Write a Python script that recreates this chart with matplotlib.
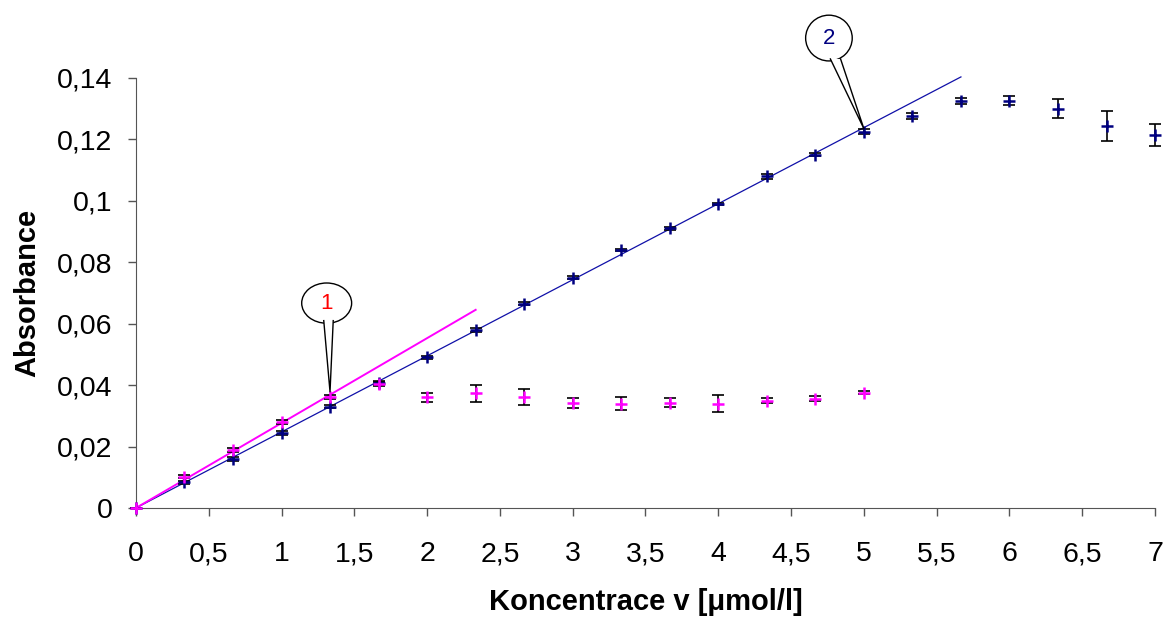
import numpy as np
import matplotlib
matplotlib.use("Agg")
import matplotlib.pyplot as plt
from matplotlib.patches import Ellipse, Polygon
from matplotlib.ticker import FuncFormatter, MultipleLocator

plt.rcParams['font.family'] = ['Liberation Sans', 'DejaVu Sans']

# Data: concentration steps of 1/3 umol/l
x_blue = np.arange(22) / 3.0
y_blue = [0, 0.0084, 0.0159, 0.0245, 0.033, 0.0408, 0.049, 0.058, 0.0665, 0.075,
          0.084, 0.091, 0.099, 0.108, 0.115, 0.1225, 0.1276, 0.1325, 0.1326,
          0.130, 0.1245, 0.1213]
err_blue = [0, 0.0005, 0.0007, 0.0007, 0.0006, 0.0006, 0.0005, 0.0006, 0.0005, 0.0006,
            0.0004, 0.0004, 0.0004, 0.0008, 0.0005, 0.0008, 0.001, 0.001, 0.0015,
            0.003, 0.0049, 0.0036]

x_mag = np.arange(16) / 3.0
y_mag = [0, 0.0102, 0.0188, 0.0281, 0.0361, 0.0403, 0.036, 0.0373, 0.036, 0.0343,
         0.034, 0.0343, 0.034, 0.0349, 0.0356, 0.0375]
err_mag = [0, 0.0006, 0.0007, 0.0006, 0.0007, 0.0006, 0.0014, 0.0027, 0.0026, 0.0016,
           0.0022, 0.0014, 0.0027, 0.0008, 0.0007, 0.0005]

# linear fits through origin: (points used, extent of line)
fit_mag_n, fit_mag_end = 5, 7 / 3.0
fit_blue_n, fit_blue_end = 16, 17 / 3.0

navy = '#000080'
line_blue = '#1010a8'
magenta = '#ff00ff'

fig = plt.figure(figsize=(11.66, 6.17), dpi=100)
ax = fig.add_axes([0.1166, 0.1767, 0.874, 0.6969])

def origin_slope(x, y, n):
    x = np.asarray(x[:n]); y = np.asarray(y[:n])
    return np.sum(x * y) / np.sum(x * x)

k_mag = origin_slope(x_mag, y_mag, fit_mag_n)
k_blue = origin_slope(x_blue, y_blue, fit_blue_n)

ax.plot([0, fit_blue_end], [0, k_blue * fit_blue_end], color=line_blue, lw=0.9,
        clip_on=False, zorder=2)
ax.plot([0, fit_mag_end], [0, k_mag * fit_mag_end], color=magenta, lw=1.4,
        clip_on=False, zorder=2)

ax.errorbar(x_blue, y_blue, yerr=err_blue, fmt='none', ecolor='black',
            elinewidth=1.2, capsize=4, capthick=1.2, clip_on=False, zorder=3)
ax.errorbar(x_mag, y_mag, yerr=err_mag, fmt='none', ecolor='black',
            elinewidth=1.2, capsize=4, capthick=1.2, clip_on=False, zorder=3)
ax.plot(x_blue, y_blue, '+', color=navy, ms=9, mew=1.8, clip_on=False, zorder=4)
ax.plot(x_mag, y_mag, '+', color=magenta, ms=9, mew=1.8, clip_on=False, zorder=5)

ax.set_xlim(0, 7)
ax.set_ylim(0, 0.14)
ax.xaxis.set_major_locator(MultipleLocator(0.5))
ax.yaxis.set_major_locator(MultipleLocator(0.02))
fmt = FuncFormatter(lambda v, p: ('%g' % round(v, 4)).replace('.', ','))
ax.xaxis.set_major_formatter(fmt)
ax.yaxis.set_major_formatter(fmt)
ax.tick_params(direction='out', length=6, width=1, labelsize=20.5)
ax.tick_params(axis='x', pad=18)
ax.tick_params(axis='y', pad=11)
ax.spines['top'].set_visible(False)
ax.spines['right'].set_visible(False)
for s in ('left', 'bottom'):
    ax.spines[s].set_color('#555555')
ax.tick_params(colors='#555555', labelcolor='black')

ax.set_xlabel('Koncentrace v [\u03bcmol/l]', fontsize=21, fontweight='bold', labelpad=15)
ax.set_ylabel('Absorbance', fontsize=21, fontweight='bold', labelpad=11)

# callouts
def callout(cx, cy, w, h, base, tip, text, color):
    e = Ellipse((cx, cy), w, h, facecolor='white', edgecolor='black', lw=1,
                clip_on=False, zorder=6)
    ax.add_patch(e)
    (bx1, bx2), by = base
    poly = Polygon([(bx1, by), tip, (bx2, by)], closed=False, facecolor='white',
                   edgecolor='none', clip_on=False, zorder=7)
    ax.add_patch(poly)
    ax.plot([bx1, tip[0], bx2], [by, tip[1], by], color='black', lw=1,
            clip_on=False, zorder=8)
    ax.text(cx, cy, text, color=color, fontsize=16, ha='center', va='center',
            zorder=9)

callout(1.31, 0.0667, 0.343, 0.0131, ((1.29, 1.355), 0.0610), (1.333, 0.0378), '1', 'red')
callout(4.76, 0.153, 0.32, 0.0149, ((4.77, 4.84), 0.1462), (5.0, 0.1235), '2', navy)

fig.savefig('out.png', dpi=100)
